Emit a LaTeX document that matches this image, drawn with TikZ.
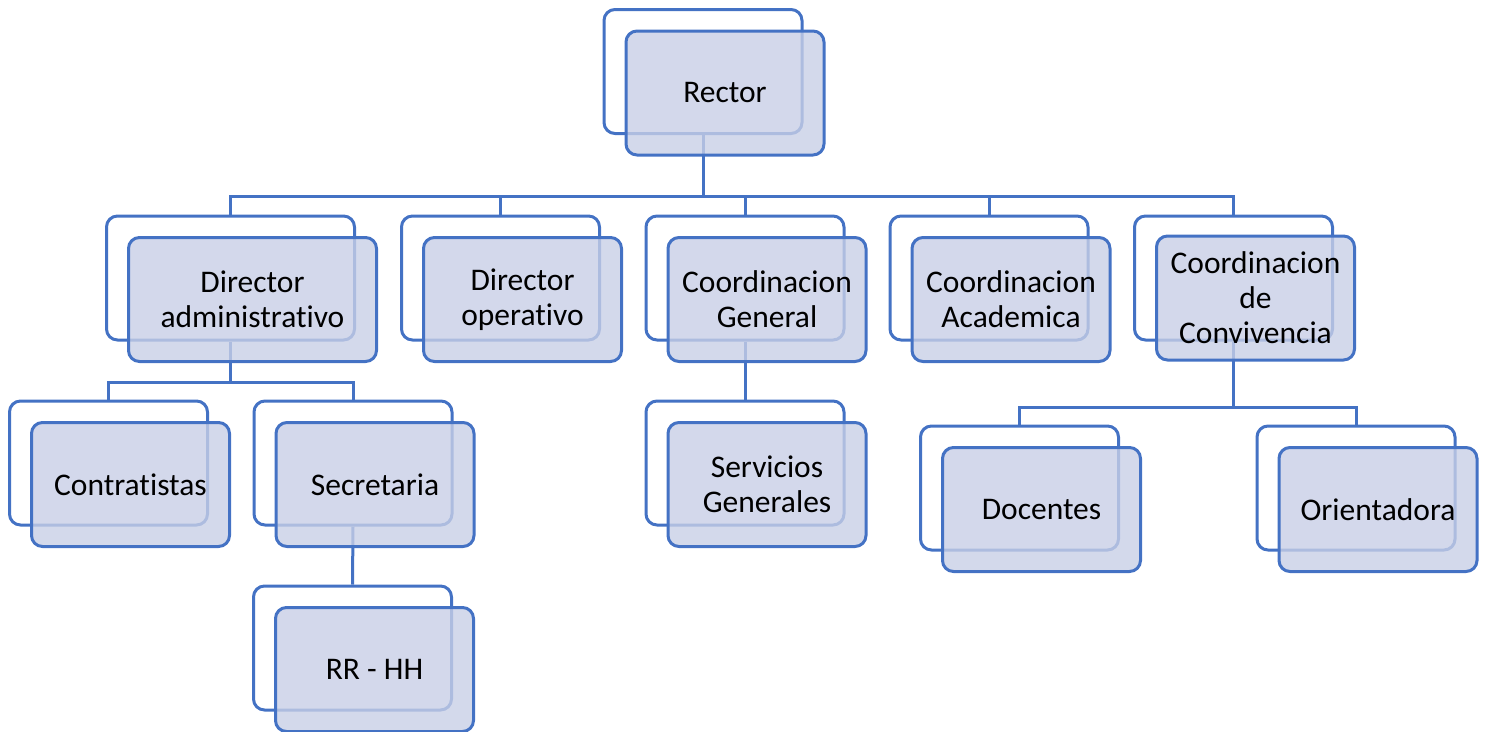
\documentclass[tikz,border=0pt]{standalone}
\usepackage{fontspec}
\setmainfont{Carlito}[RawFeature={-liga;-clig;-dlig}]
\usetikzlibrary{backgrounds}
\definecolor{bord}{RGB}{68,114,196}
\definecolor{ffill}{RGB}{200,207,230}
\begin{document}
\begin{tikzpicture}[x=1pt,y=-1pt,
  backbox/.style={draw=bord, line width=3pt, fill=white, rounded corners=11pt,
    minimum width=198pt, minimum height=124pt, inner sep=0pt},
  frontbox/.style={draw=bord, line width=3pt, fill=ffill, fill opacity=0.8,
    text opacity=1, text=black, rounded corners=11pt,
    minimum width=198pt, minimum height=124pt, inner sep=0pt, align=center,
    font=\fontsize{31.5}{35}\selectfont},
  conn/.style={draw=bord, line width=3pt}]
\useasboundingbox (0,0) rectangle (1487,731);
% level 1
\node[backbox] (rB) at (703,71.5) {};
\node[frontbox] (r) at (725,93) {Rector};
% level 2
\node[backbox, minimum width=248pt] (daB) at (230.5,278) {};
\node[frontbox, minimum width=248pt] (da) at (252.5,299.5) {Director\\administrativo};
\node[backbox] (doB) at (500.5,278) {};
\node[frontbox] (do) at (522.5,299.5) {Director\\operativo};
\node[backbox] (cgB) at (745,278) {};
\node[frontbox] (cg) at (767,299.5) {Coordinacion\\General};
\node[backbox] (caB) at (989,278) {};
\node[frontbox] (ca) at (1011,299.5) {Coordinacion\\Academica};
\node[backbox] (ccB) at (1233.5,278) {};
\node[frontbox] (cc) at (1255.5,298) {Coordinacion\\de\\Convivencia};
% level 3
\node[backbox] (ctB) at (108.5,463) {};
\node[frontbox] (ct) at (130.5,484.5) {Contratistas};
\node[backbox] (seB) at (353,463) {};
\node[frontbox] (se) at (375,484.5) {Secretaria};
\node[backbox] (rhB) at (352.5,648) {};
\node[frontbox] (rh) at (374.5,669.5) {RR - HH};
\node[backbox] (sgB) at (745,463) {};
\node[frontbox] (sg) at (767,484.5) {Servicios\\Generales};
\node[backbox] (dcB) at (1019.5,488) {};
\node[frontbox] (dc) at (1041.5,509.5) {Docentes};
\node[backbox] (orB) at (1356,488) {};
\node[frontbox] (or) at (1378,509.5) {Orientadora};
% connectors
\begin{scope}[on background layer]
\draw[conn] (rB.south) -- ++(0,61.5) coordinate (j1);
\draw[conn] (daB.north) |- (j1) -| (ccB.north);
\draw[conn] (doB.north) -- (doB.north |- j1);
\draw[conn] (cgB.north) -- (cgB.north |- j1);
\draw[conn] (caB.north) -- (caB.north |- j1);
\draw[conn] (daB.south) -- ++(0,41) coordinate (j2);
\draw[conn] (ctB.north) |- (j2) -| (seB.north);
\draw[conn] (seB.south) -- (rhB.north);
\draw[conn] (cgB.south) -- (sgB.north);
\draw[conn] (ccB.south) -- ++(0,66) coordinate (j3);
\draw[conn] (dcB.north) |- (j3) -| (orB.north);
\end{scope}
\end{tikzpicture}
\end{document}
